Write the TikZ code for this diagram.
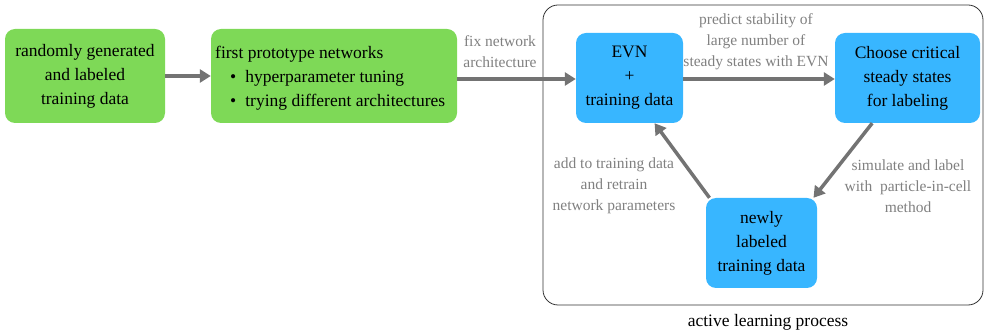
\documentclass[tikz,border=0pt]{standalone}
\usepackage{fontspec}
\setmainfont{Liberation Serif}
\usetikzlibrary{arrows.meta}
\definecolor{gfill}{HTML}{7ED957}
\definecolor{bfill}{HTML}{38B6FF}
\definecolor{arrowgray}{HTML}{737373}
\definecolor{labelgray}{HTML}{808080}
\definecolor{framegray}{HTML}{333333}
\begin{document}
\begin{tikzpicture}[x=1pt,y=-1pt,
  box/.style={rounded corners=10pt, draw=none, align=center, inner sep=2pt,
    font=\fontsize{17.5}{24}\selectfont, text=black},
  gbox/.style={box, fill=gfill},
  bbox/.style={box, fill=bfill},
  conn/.style={draw=arrowgray, line width=3.5pt, -{Triangle[length=11pt,width=13pt]}, shorten >=0pt},
  lbl/.style={align=center, text=labelgray, font=\fontsize{15.5}{21}\selectfont, inner sep=1pt}
]
\useasboundingbox (0,0) rectangle (985,336);
% frame
\node[draw=framegray, line width=0.8pt, rounded corners=15pt, minimum width=440pt, minimum height=300pt, inner sep=0pt] (frame) at (763,155) {};
\node[font=\fontsize{17.5}{20}\selectfont, anchor=base] (flbl) at (768,327) {active learning process};

% boxes
\node[gbox, minimum width=160pt, minimum height=94pt] (b1) at (85,76) {randomly generated\\and labeled\\training data};
\node[gbox, minimum width=246pt, minimum height=94pt] (b2) at (334,76) {};
\node[anchor=west, align=left, inner sep=0pt, font=\fontsize{17.5}{24}\selectfont] (b2t) at (215,78) {%
  first prototype networks\\
  \hspace{15pt}\textbullet\hspace{9pt}hyperparameter tuning\\
  \hspace{15pt}\textbullet\hspace{9pt}trying different architectures};
\node[bbox, minimum width=107pt, minimum height=90pt] (evn) at (629.5,78) {EVN\\+\\training data};
\node[bbox, minimum width=145pt, minimum height=90pt] (choose) at (907.5,78) {Choose critical\\steady states\\for labeling};
\node[bbox, minimum width=111pt, minimum height=90pt] (newly) at (761.5,243) {newly\\labeled\\training data};

% connectors
\draw[conn] (b1.east) -- (b2.west);
\draw[conn] (b2.east |- 0,79) -- (evn.west |- 0,79);
\draw[conn] (evn.east |- 0,79) -- (choose.west |- 0,79);
\draw[conn] (choose.232) -- (newly.41);
\draw[conn] (newly.139) -- (evn.-61);

% labels
\node[lbl] (l1) at (500,52) {fix network\\architecture};
\node[lbl] (l2) at (756,42) {predict stability of\\large number of\\steady states with EVN};
\node[lbl] (l3) at (614,186) {add to training data\\and retrain\\network parameters};
\node[lbl] (l4) at (908,186) {simulate and label\\with\ \ particle-in-cell\\method};
\end{tikzpicture}
\end{document}
